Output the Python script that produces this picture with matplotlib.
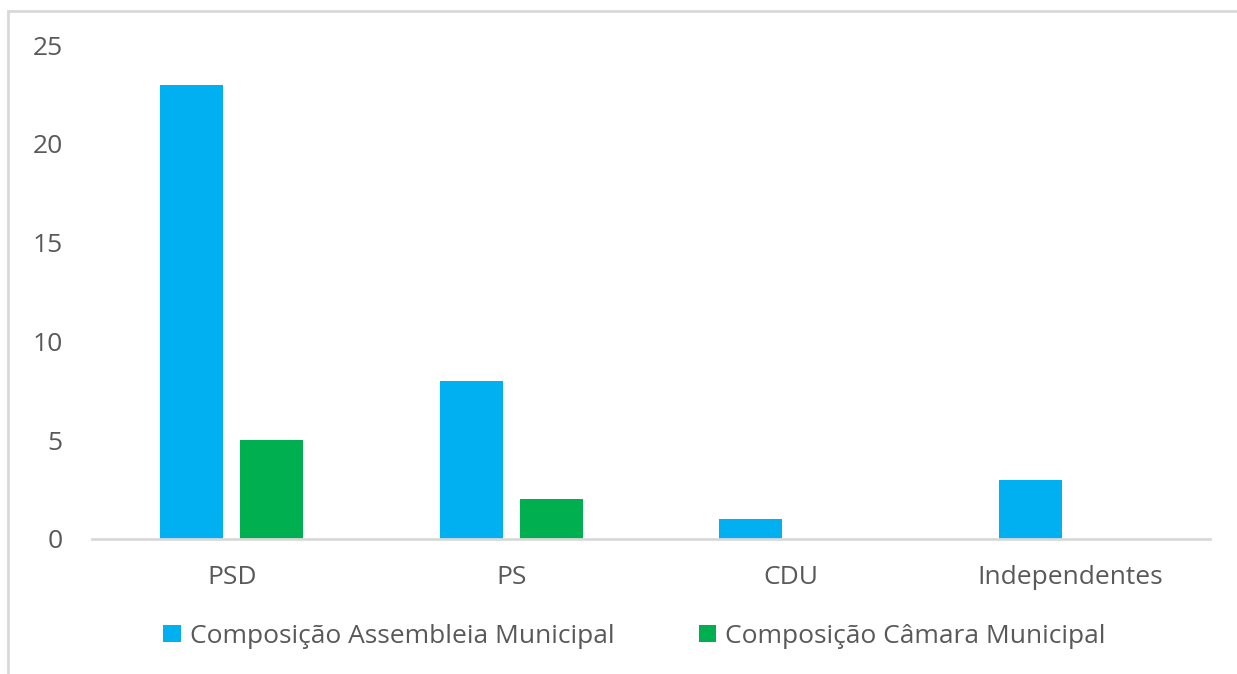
import matplotlib.pyplot as plt
import numpy as np
from matplotlib.lines import Line2D

# data
partidos = ['PSD', 'PS', 'CDU', 'Independentes']
assembleia = [23, 8, 1, 3]
camara = [5, 2, 0, 0]
series_names = ['Composição Assembleia Municipal', 'Composição Câmara Municipal']
yticks = [0, 5, 10, 15, 20, 25]

blue = '#00b0f0'
green = '#00b050'
txt = '#595959'

plt.rcParams['font.family'] = ['Open Sans', 'DejaVu Sans']

fig = plt.figure(figsize=(12.37, 6.74), dpi=100)
ax = fig.add_axes([0.0744, 0.2003, 0.9036, 0.7329])

x = np.arange(len(partidos))
w = 0.225
off = 0.143
ax.bar(x - off, assembleia, width=w, color=blue, label=series_names[0])
ax.bar(x + off, camara, width=w, color=green, label=series_names[1])

ax.set_xlim(-0.5, len(partidos) - 0.5)
ax.set_ylim(0, 25)
ax.set_yticks(yticks)
ax.set_xticks(x)
ax.set_xticklabels(partidos)

for s in ['top', 'right', 'left']:
    ax.spines[s].set_visible(False)
ax.spines['bottom'].set_color('#d9d9d9')
ax.spines['bottom'].set_linewidth(2)
ax.tick_params(axis='both', length=0, labelsize=19, colors=txt)
ax.tick_params(axis='y', pad=21)
ax.tick_params(axis='x', pad=19)

leg = fig.legend(loc='center', bbox_to_anchor=(0.513, 0.056), ncol=2, frameon=False,
                 fontsize=19, handlelength=0.65, handleheight=0.65, handletextpad=0.35,
                 columnspacing=3.2)
for t in leg.get_texts():
    t.set_color(txt)

# outer border (top and left, as in the cropped screenshot)
fig.add_artist(Line2D([8 / 1237, 1], [1 - 11 / 674, 1 - 11 / 674], color='#d9d9d9', lw=2))
fig.add_artist(Line2D([8 / 1237, 8 / 1237], [0, 1 - 11 / 674], color='#d9d9d9', lw=2))

fig.savefig('out.png', dpi=100)
